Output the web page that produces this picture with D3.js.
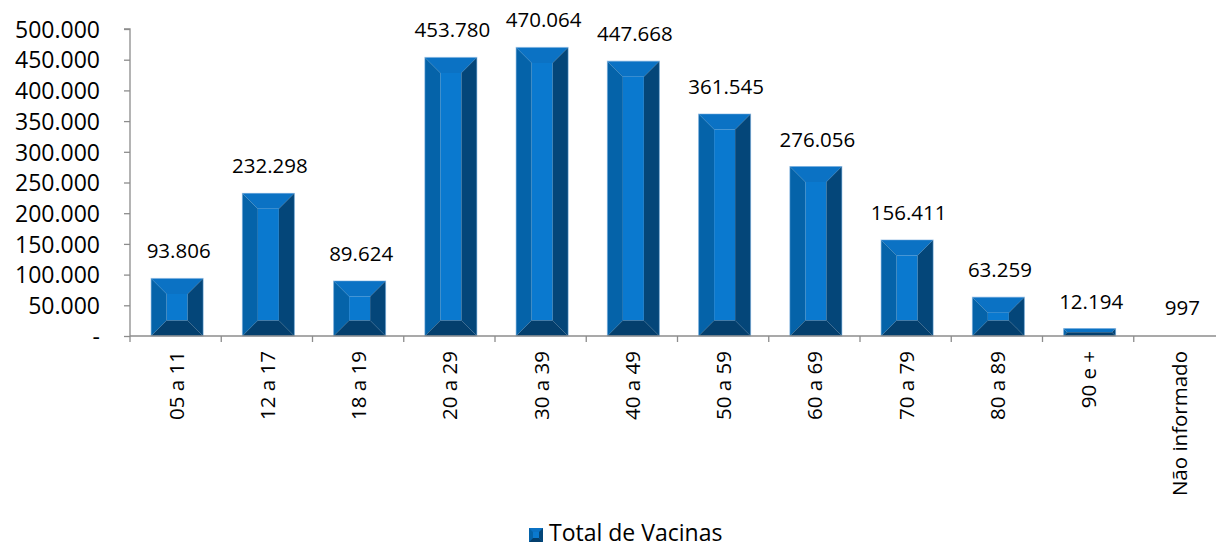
<!DOCTYPE html>
<html><head><meta charset="utf-8">
<script src="https://cdn.jsdelivr.net/npm/d3@7"></script>
<style>
body{margin:0;background:#fff;}
svg{display:block;}
text{font-family:"Open Sans",sans-serif;fill:#000;}
</style></head>
<body>
<svg id="chart" width="1216" height="547"></svg>
<script>
const categories = ["05 a 11","12 a 17","18 a 19","20 a 29","30 a 39","40 a 49","50 a 59","60 a 69","70 a 79","80 a 89","90 e +","Não informado"];
const values = [93806,232298,89624,453780,470064,447668,361545,276056,156411,63259,12194,997];
const valueLabels = ["93.806","232.298","89.624","453.780","470.064","447.668","361.545","276.056","156.411","63.259","12.194","997"];
const yTicks = [0,50000,100000,150000,200000,250000,300000,350000,400000,450000,500000];
const yTickLabels = ["-","50.000","100.000","150.000","200.000","250.000","300.000","350.000","400.000","450.000","500.000"];
const seriesName = "Total de Vacinas";

const svg = d3.select("#chart");
const x0 = 130, x1 = 1225, yBottom = 336, yTop = 29;
const xBand = d3.scaleBand().domain(categories).range([x0, x1]).padding(0);
const xBar = d3.scaleBand().domain(categories).range([x0 + 1.5, x1 + 1.5]).paddingInner(0.43).paddingOuter(0.215);
const y = d3.scaleLinear().domain([0, 500000]).range([yBottom, yTop]);
const axisColor = "#8c8c8c";

// colors
const cTop = "#0b72c4", cMid = "#0a79cf", cLeft = "#0563a9", cRight = "#044679", cBot = "#043f6d";

function bevelBar(g, bx, by, bw, bh){
  const d = Math.min(15.5, bw*0.3, bh/2);
  const L = bx, R = bx+bw, T = by, B = by+bh;
  const poly = (pts, fill) => g.append("polygon").attr("points", pts.map(p=>p.join(",")).join(" ")).attr("fill", fill);
  poly([[L+d,T+d],[R-d,T+d],[R-d,B-d],[L+d,B-d]], cMid);
  poly([[L,T],[R,T],[R-d,T+d],[L+d,T+d]], cTop);
  poly([[L,T],[L+d,T+d],[L+d,B-d],[L,B]], cLeft);
  poly([[R,T],[R,B],[R-d,B-d],[R-d,T+d]], cRight);
  poly([[L,B],[L+d,B-d],[R-d,B-d],[R,B]], cBot);
  g.append("rect").attr("x",L).attr("y",T).attr("width",bw).attr("height",bh)
    .attr("fill","none").attr("stroke","#6fa8dc").attr("stroke-opacity",0.55).attr("stroke-width",1);
}

// bars
const barsG = svg.append("g");
categories.forEach((c,i)=>{
  const v = values[i];
  const top = y(v), h = yBottom - top;
  if (h > 0.9) bevelBar(barsG.append("g"), xBar(c), top, xBar.bandwidth(), h);
});

// y axis
const yAxis = d3.axisLeft(y).tickValues(yTicks).tickSize(6).tickPadding(24)
  .tickFormat((d,i)=>yTickLabels[i]);
const gy = svg.append("g").attr("transform",`translate(${x0},0)`).call(yAxis);
gy.select(".domain").attr("stroke",axisColor).attr("stroke-width",1.3).attr("d",`M-6,${yTop}H0V${yBottom}`);
gy.selectAll(".tick line").attr("stroke",axisColor).attr("stroke-width",1.3);
gy.selectAll(".tick text").style("font-family",'"Open Sans",sans-serif').style("font-size","23px").attr("fill","#000").attr("dy","0.36em");

// x axis
const xAxis = d3.axisBottom(xBand).tickSize(0).tickFormat("");
const gx = svg.append("g").attr("transform",`translate(0,${yBottom})`).call(xAxis);
gx.select(".domain").attr("stroke",axisColor).attr("stroke-width",1.3).attr("d",`M${x0},0H${x1}`);
gx.selectAll(".tick").remove();
const bounds = categories.map(c=>xBand(c)).concat([x1]);
gx.selectAll("line.bt").data(bounds).enter().append("line")
  .attr("x1",d=>d).attr("x2",d=>d).attr("y1",0).attr("y2",6)
  .attr("stroke",axisColor).attr("stroke-width",1.3);

// category labels (rotated)
svg.append("g").selectAll("text").data(categories).enter().append("text")
  .attr("transform",d=>`translate(${xBand(d)+xBand.bandwidth()/2+8},351) rotate(-90)`)
  .attr("text-anchor","end")
  .style("font-size","20.5px")
  .text(d=>d);

// value labels
svg.append("g").selectAll("text").data(categories).enter().append("text")
  .attr("x",d=>xBand(d)+xBand.bandwidth()/2+3)
  .attr("y",(d,i)=>y(values[i]) - 20)
  .attr("text-anchor","middle")
  .style("font-size","20.5px")
  .text((d,i)=>valueLabels[i]);

// legend
const lg = svg.append("g").attr("transform","translate(529,528)");
(function(){
  const g = lg.append("g");
  const s = 14, d = 4;
  const poly = (pts, fill) => g.append("polygon").attr("points", pts.map(p=>p.join(",")).join(" ")).attr("fill", fill);
  poly([[0,0],[s,0],[s,s],[0,s]], cMid);
  poly([[0,0],[s,0],[s-d,d],[d,d]], cTop);
  poly([[0,0],[d,d],[d,s-d],[0,s]], cLeft);
  poly([[s,0],[s,s],[s-d,s-d],[s-d,d]], cRight);
  poly([[0,s],[d,s-d],[s-d,s-d],[s,s]], cBot);
})();
lg.append("text").attr("x",20).attr("y",13).style("font-size","23px").text(seriesName);
</script>
</body></html>
